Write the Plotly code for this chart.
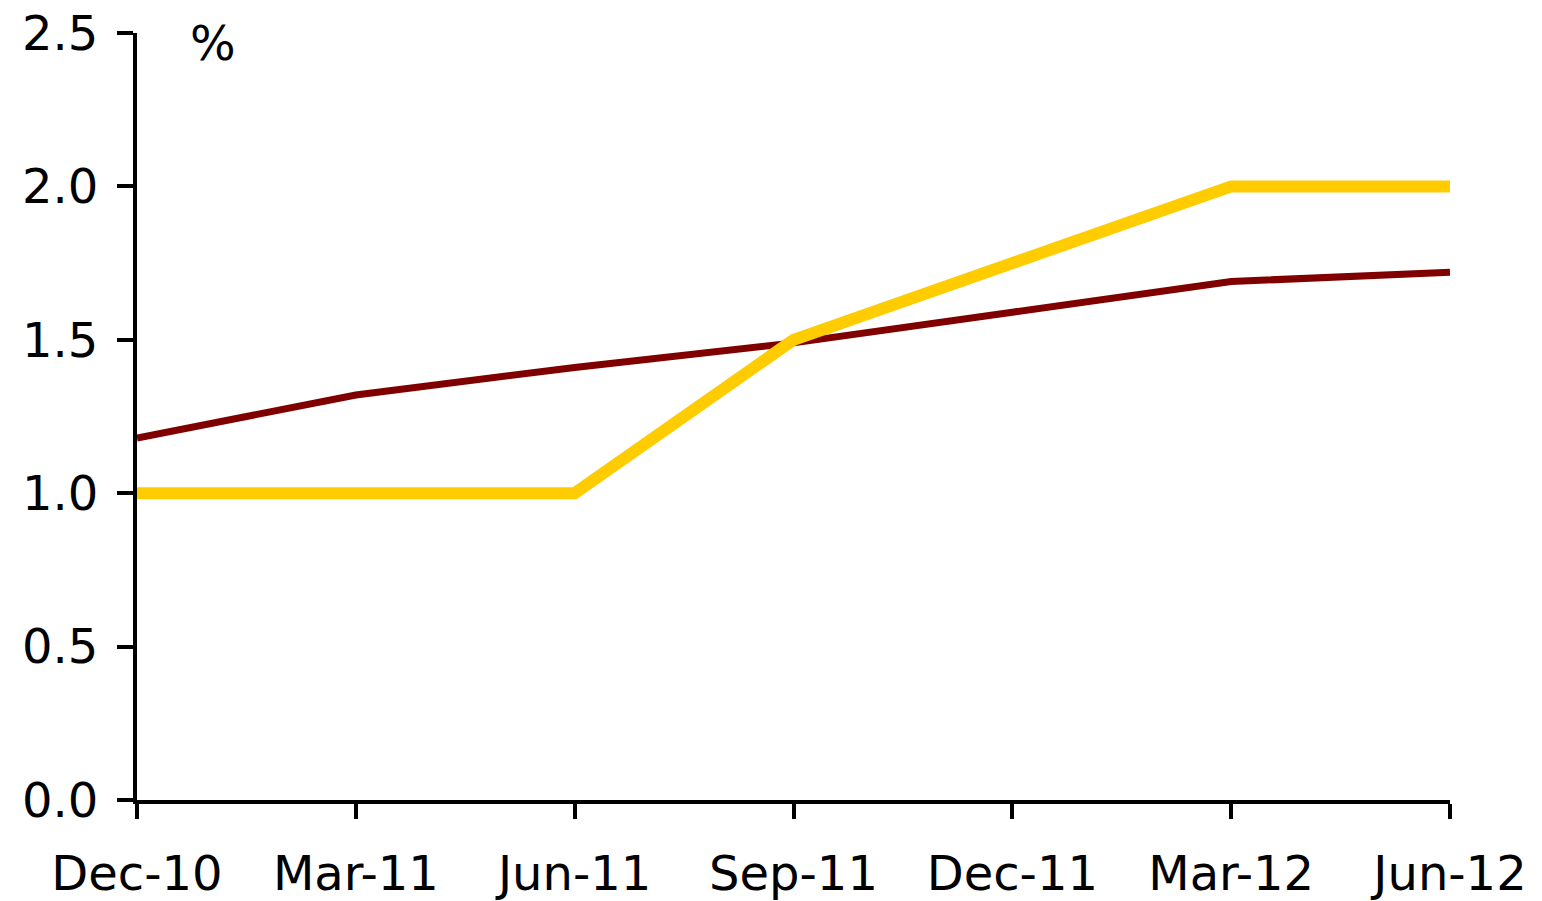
import plotly.graph_objects as go

categories = ["Dec-10", "Mar-11", "Jun-11", "Sep-11", "Dec-11", "Mar-12", "Jun-12"]
series_red = [1.18, 1.32, 1.41, 1.49, 1.59, 1.69, 1.72]
series_yellow = [1.0, 1.0, 1.0, 1.5, 1.75, 2.0, 2.0]
y_ticks = [0.0, 0.5, 1.0, 1.5, 2.0, 2.5]
y_ticktext = ["0.0", "0.5", "1.0", "1.5", "2.0", "2.5"]

FONT = "DejaVu Sans"
FSIZE = 48

fig = go.Figure()
fig.add_trace(go.Scatter(x=categories, y=series_red, mode="lines",
                         line=dict(color="#800000", width=7), showlegend=False))
fig.add_trace(go.Scatter(x=categories, y=series_yellow, mode="lines",
                         line=dict(color="#FFCC00", width=12), showlegend=False))

fig.update_layout(
    width=1534, height=893,
    margin=dict(l=129, r=92, t=25, b=101),
    plot_bgcolor="white", paper_bgcolor="white",
    font=dict(family=FONT, size=FSIZE, color="black"),
    xaxis=dict(
        type="category", range=[0, 6], showgrid=False, zeroline=False,
        showline=True, linecolor="black", linewidth=4, automargin=False,
        ticks="outside", ticklen=15, tickwidth=4, tickcolor="black",
        tickfont=dict(family=FONT, size=FSIZE, color="black"),
        ticklabelstandoff=13, ticklabeloverflow="allow",
    ),
    yaxis=dict(
        range=[0, 2.5], tickvals=y_ticks, ticktext=y_ticktext,
        showgrid=False, zeroline=False, automargin=False,
        showline=True, linecolor="black", linewidth=4,
        ticks="outside", ticklen=16, tickwidth=4, tickcolor="black",
        tickfont=dict(family=FONT, size=FSIZE, color="black"),
        ticklabelstandoff=9, ticklabeloverflow="allow",
    ),
    annotations=[dict(text="%", xref="paper", yref="paper", x=0.058, y=0.987,
                      xanchor="center", yanchor="middle", showarrow=False,
                      font=dict(family=FONT, size=FSIZE, color="black"))],
)

fig.write_html("out.html")
